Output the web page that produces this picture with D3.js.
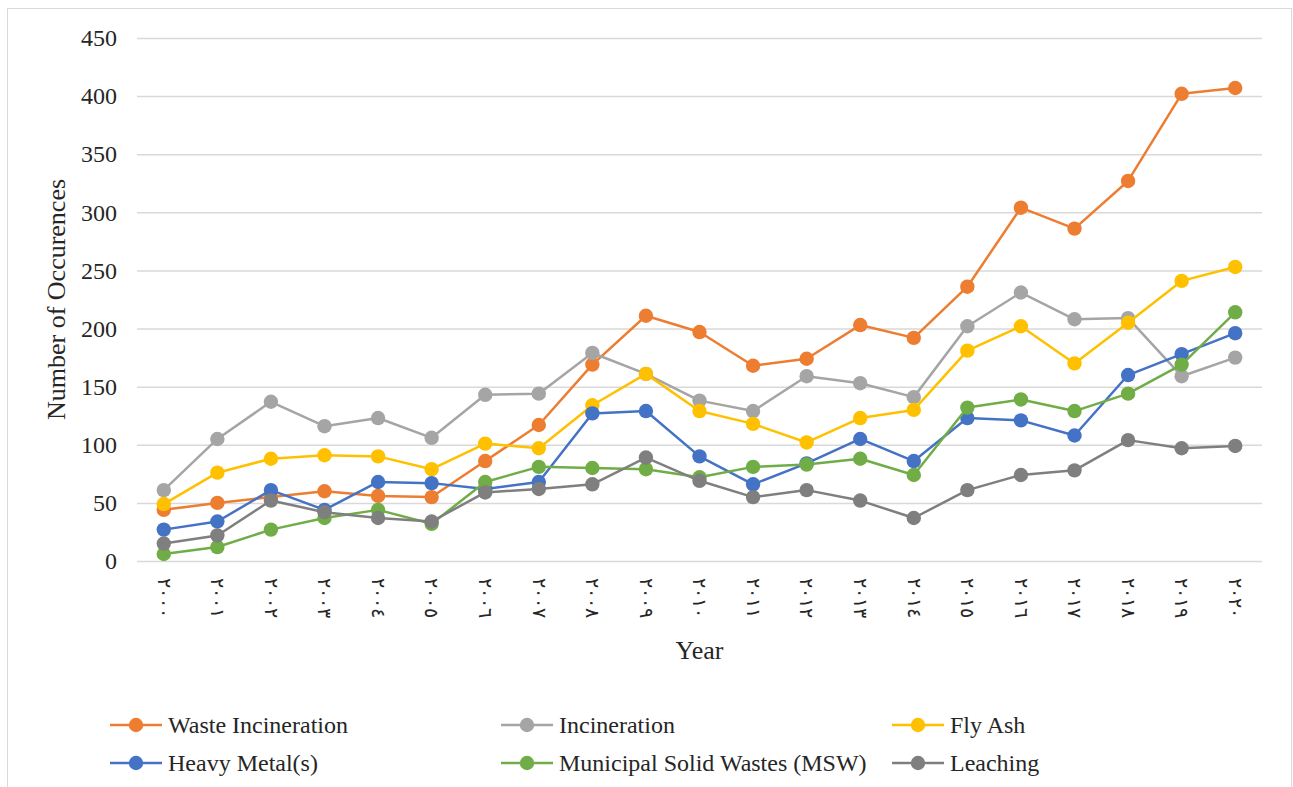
<!DOCTYPE html>
<html>
<head>
<meta charset="utf-8">
<script src="https://cdn.jsdelivr.net/npm/d3@7"></script>
<style>
    body { margin: 0; background: #fff; }
    text { font-family: "Liberation Serif", "Times New Roman", serif; fill: #262626; }
</style>
</head>
<body>
<div id="chart"></div>
<script>
'use strict';

const years = d3.range(2000, 2021);
const yTicks = [0, 50, 100, 150, 200, 250, 300, 350, 400, 450];

const wasteIncineration = [44, 50, 55, 60, 56, 55, 86, 117, 169, 211, 197, 168, 174, 203, 192, 236, 304, 286, 327, 402, 407];
const incineration = [61, 105, 137, 116, 123, 106, 143, 144, 179, 161, 138, 129, 159, 153, 141, 202, 231, 208, 209, 159, 175];
const flyAsh = [49, 76, 88, 91, 90, 79, 101, 97, 134, 161, 129, 118, 102, 123, 130, 181, 202, 170, 205, 241, 253];
const heavyMetals = [27, 34, 61, 44, 68, 67, 62, 68, 127, 129, 90, 66, 84, 105, 86, 123, 121, 108, 160, 178, 196];
const msw = [6, 12, 27, 37, 44, 32, 68, 81, 80, 79, 72, 81, 83, 88, 74, 132, 139, 129, 144, 169, 214];
const leaching = [15, 22, 52, 42, 37, 34, 59, 62, 66, 89, 69, 55, 61, 52, 37, 61, 74, 78, 104, 97, 99];

const series = [
    { label: 'Waste Incineration', color: '#ED7D31', values: wasteIncineration },
    { label: 'Incineration', color: '#A5A5A5', values: incineration },
    { label: 'Fly Ash', color: '#FFC000', values: flyAsh },
    { label: 'Heavy Metal(s)', color: '#4472C4', values: heavyMetals },
    { label: 'Municipal Solid Wastes (MSW)', color: '#70AD47', values: msw },
    { label: 'Leaching', color: '#7F7F7F', values: leaching }
];

// years shown with Arabic-Indic digits, like the original
const arabicDigits = '٠١٢٣٤٥٦٧٨٩';
const toArabic = (n) => String(n).replace(/\d/g, d => arabicDigits[+d]);

function buildChart() {
    const width = 1293;
    const height = 787;

    const left = 137;
    const right = 1262;
    const top = 38;
    const bottom = 561;

    const svg = d3.select('#chart')
        .append('svg')
            .attr('width', width)
            .attr('height', height);

    svg.append('rect')
        .attr('x', 7.5)
        .attr('y', 8.5)
        .attr('width', 1284)
        .attr('height', 790)
        .attr('fill', '#fff')
        .attr('stroke', '#d9d9d9')
        .attr('stroke-width', 1);

    const x = d3.scalePoint()
        .domain(years)
        .range([left, right])
        .padding(0.5);

    const y = d3.scaleLinear()
        .domain([0, 450])
        .range([bottom, top]);

    // gridlines + y labels
    const yAxis = d3.axisLeft(y)
        .tickValues(yTicks)
        .tickSize(-(right - left))
        .tickPadding(20);

    const yg = svg.append('g')
        .attr('transform', `translate(${left},0)`)
        .call(yAxis);
    yg.select('.domain').remove();
    yg.selectAll('.tick line')
        .attr('stroke', '#d9d9d9')
        .attr('stroke-width', 1.5);
    yg.selectAll('.tick text')
        .attr('font-size', 24)
        .attr('fill', '#262626');

    // x labels, rotated
    const xAxis = d3.axisBottom(x)
        .tickSize(0)
        .tickFormat(toArabic);

    const xg = svg.append('g')
        .attr('transform', `translate(0,${bottom})`)
        .call(xAxis);
    xg.select('.domain').remove();
    xg.selectAll('.tick text')
        .attr('font-family', 'DejaVu Sans, sans-serif')
        .attr('font-size', 19)
        .attr('fill', '#262626')
        .attr('text-anchor', 'start')
        .attr('dy', '0.35em')
        .attr('transform', 'translate(0,17) rotate(90)')
        .attr('y', 0)
        .attr('x', 0);

    svg.append('text')
        .attr('transform', `translate(65,${(top + bottom) / 2}) rotate(-90)`)
        .attr('text-anchor', 'middle')
        .attr('font-size', 26)
        .text('Number of Occurences');

    svg.append('text')
        .attr('x', (left + right) / 2)
        .attr('y', 659)
        .attr('text-anchor', 'middle')
        .attr('font-size', 26)
        .text('Year');

    const line = d3.line()
        .x((d, i) => x(years[i]))
        .y(d => y(d));

    const graph = svg.append('g');

    series.forEach(s => {
        const g = graph.append('g');
        g.append('path')
            .datum(s.values)
            .attr('fill', 'none')
            .attr('stroke', s.color)
            .attr('stroke-width', 2.5)
            .attr('stroke-linejoin', 'round')
            .attr('d', line);
        g.selectAll('circle')
            .data(s.values)
            .enter()
            .append('circle')
                .attr('cx', (d, i) => x(years[i]))
                .attr('cy', d => y(d))
                .attr('r', 7.2)
                .attr('fill', s.color);
    });

    // legend, 3 columns x 2 rows
    const legendItem = svg.append('g')
        .selectAll('g')
        .data(series)
        .enter()
            .append('g')
            .attr('transform', (d, i) => `translate(${110 + 391 * (i % 3)}, ${725 + 38 * Math.floor(i / 3)})`);

    legendItem.append('line')
        .attr('x1', 0)
        .attr('x2', 52)
        .attr('stroke', d => d.color)
        .attr('stroke-width', 2.5);

    legendItem.append('circle')
        .attr('cx', 26)
        .attr('r', 7.2)
        .attr('fill', d => d.color);

    legendItem.append('text')
        .attr('x', 58)
        .attr('dy', '0.33em')
        .attr('font-size', 24)
        .text(d => d.label);
}

window.addEventListener('DOMContentLoaded', () => {
    buildChart();
});
</script>
</body>
</html>
